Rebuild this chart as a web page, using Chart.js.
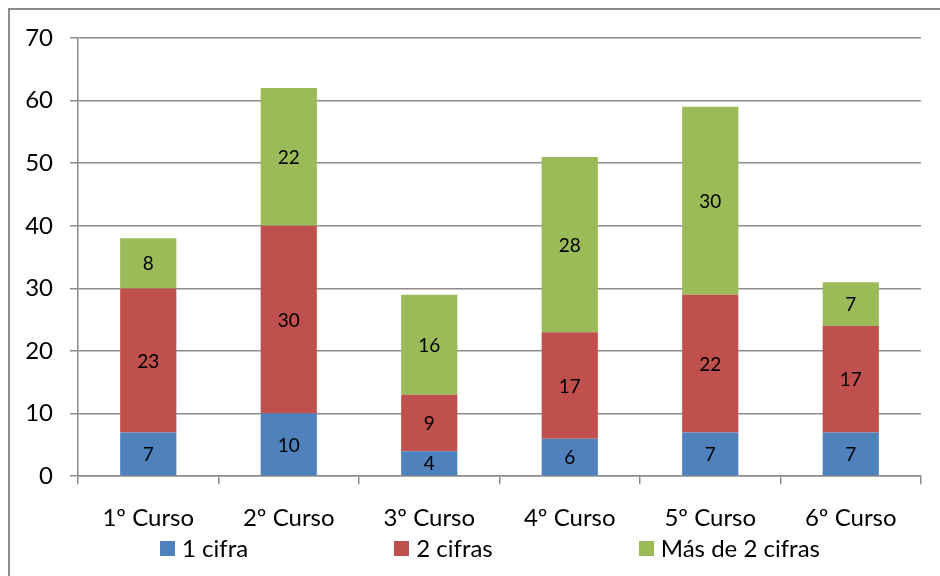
<!DOCTYPE html>
<html>
<head>
<meta charset="utf-8">
<script src="https://cdn.jsdelivr.net/npm/chart.js@4/dist/chart.umd.min.js"></script>
<style>
html,body{margin:0;padding:0;background:#fff;}
#wrap{width:940px;height:576px;position:relative;}
</style>
</head>
<body>
<div id="wrap"><canvas id="c" width="940" height="576"></canvas></div>
<script>
const categories = ["1º Curso", "2º Curso", "3º Curso", "4º Curso", "5º Curso", "6º Curso"];
const unaCifra = [7, 10, 4, 6, 7, 7];
const dosCifras = [23, 30, 9, 17, 22, 17];
const masDeDos = [8, 22, 16, 28, 30, 7];
const seriesNames = ["1 cifra", "2 cifras", "Más de 2 cifras"];
const seriesColors = ["#4F81BD", "#C0504D", "#9BBB59"];
const yTicks = [0, 10, 20, 30, 40, 50, 60, 70];

const FONT = "Lato, 'Open Sans', sans-serif";

const framePlugin = {
  id: 'frame',
  beforeDraw(chart) {
    const ctx = chart.ctx;
    ctx.save();
    ctx.fillStyle = '#fff';
    ctx.fillRect(0, 0, chart.width, chart.height);
    ctx.strokeStyle = '#8c8c8c';
    ctx.lineWidth = 2;
    ctx.beginPath();
    ctx.moveTo(9, chart.height + 2);
    ctx.lineTo(9, 9);
    ctx.lineTo(chart.width + 2, 9);
    ctx.stroke();
    ctx.restore();
  }
};

const valueLabels = {
  id: 'valueLabels',
  afterDatasetsDraw(chart) {
    const ctx = chart.ctx;
    ctx.save();
    ctx.font = "19px " + FONT;
    ctx.fillStyle = '#000';
    ctx.textAlign = 'center';
    ctx.textBaseline = 'middle';
    chart.data.datasets.forEach((ds, i) => {
      const meta = chart.getDatasetMeta(i);
      meta.data.forEach((el, j) => {
        const y = (el.y + el.base) / 2;
        ctx.fillText(String(ds.data[j]), el.x, y + 1);
      });
    });
    ctx.restore();
  }
};

const customLegend = {
  id: 'customLegend',
  afterDraw(chart) {
    const ctx = chart.ctx;
    ctx.save();
    ctx.font = "24px " + FONT;
    const box = 15, gapText = 7, gap = 146;
    const widths = chart.data.datasets.map(ds => box + gapText + ctx.measureText(ds.label).width);
    const total = widths.reduce((a, b) => a + b, 0) + gap * (widths.length - 1);
    const cx = 490;
    let x = cx - total / 2;
    const yc = 548;
    ctx.textBaseline = 'middle';
    ctx.textAlign = 'left';
    chart.data.datasets.forEach((ds, i) => {
      ctx.fillStyle = ds.backgroundColor;
      ctx.fillRect(Math.round(x), yc - 7, box, box);
      ctx.fillStyle = '#000';
      ctx.fillText(ds.label, x + box + gapText, yc + 1);
      x += widths[i] + gap;
    });
    ctx.restore();
  }
};

new Chart(document.getElementById('c'), {
  type: 'bar',
  data: {
    labels: categories,
    datasets: [
      { label: seriesNames[0], data: unaCifra, backgroundColor: seriesColors[0] },
      { label: seriesNames[1], data: dosCifras, backgroundColor: seriesColors[1] },
      { label: seriesNames[2], data: masDeDos, backgroundColor: seriesColors[2] }
    ]
  },
  options: {
    responsive: false,
    animation: false,
    devicePixelRatio: 1,
    layout: { padding: { top: 38, right: 19, bottom: 23, left: 0 } },
    plugins: {
      legend: { display: false },
      tooltip: { enabled: false },
      title: { display: false }
    },
    datasets: { bar: { categoryPercentage: 1.0, barPercentage: 0.4, borderWidth: 0 } },
    scales: {
      x: {
        stacked: true,
        grid: { display: true, drawOnChartArea: false, drawTicks: true, tickLength: 8, offset: true, color: '#8c8c8c', lineWidth: 1.5 },
        border: { display: true, color: '#8c8c8c', width: 1.5 },
        ticks: { color: '#000', font: { family: FONT, size: 24 }, padding: 20, maxRotation: 0 }
      },
      y: {
        stacked: true,
        min: 0, max: 70,
        afterFit(scale) { scale.width = 78; },
        afterBuildTicks(scale) { scale.ticks = yTicks.map(v => ({ value: v })); },
        grid: { color: '#8c8c8c', lineWidth: 1.5, tickLength: 8, drawTicks: true },
        border: { display: true, color: '#8c8c8c', width: 1.5 },
        ticks: { color: '#000', font: { family: FONT, size: 24 }, padding: 17 }
      }
    }
  },
  plugins: [framePlugin, valueLabels, customLegend]
});
</script>
</body>
</html>
